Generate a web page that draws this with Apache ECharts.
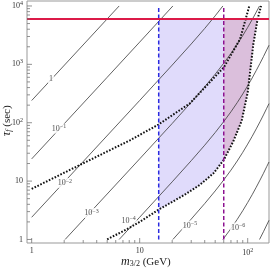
<!DOCTYPE html>
<html><head><meta charset="utf-8">
<script src="https://cdn.jsdelivr.net/npm/echarts@6/dist/echarts.min.js"></script>
<style>html,body{margin:0;padding:0;background:#fff}#c{width:270px;height:276px}</style>
</head><body><div id="c"></div>
<script>
// ---------- data ----------
const xRange = [0.905, 157.5];
const yRange = [0.87, 12170];
const xMajorTicks = [1, 10, 100];
const xMinorTicks = [2,3,4,5,6,7,8,9,20,30,40,50,60,70,80,90];
const yMajorTicks = [1, 10, 100, 1000, 10000];
const yMinorTicks = [2,3,4,5,6,7,8,9,20,30,40,50,60,70,80,90,200,300,400,500,600,700,800,900,2000,3000,4000,5000,6000,7000,8000,9000];

const contourNames = ['1', '10{s|\u22121}', '10{s|\u22122}', '10{s|\u22123}', '10{s|\u22124}', '10{s|\u22125}', '10{s|\u22126}', ''];
const contour0 = [[1,240],[6.455,10000]];
const contour1 = [[1,24],[5,600],[10,2405],[20.29,10000]];
const contour2 = [[1,2.4],[10,240.5],[20,971.5],[30,2235.6],[40,4120],[50,6780],[58.93,10000]];
const contour3 = [[2.04,1],[10,24.05],[20,97.15],[30,223.6],[40,412],[50,678],[60,1044.6],[70,1540.6],[80,2212],[90,3110],[100,4296],[110,5837],[120,7845],[128.7,10000]];
const contour4 = [[6.455,1],[10,2.405],[20,9.715],[30,22.36],[40,41.2],[50,67.8],[60,104.5],[70,154],[80,221],[90,311],[100,430],[110,584],[120,785],[130,1038],[140,1360],[150,1766],[157.5,2125]];
const contour5 = [[20.29,1],[30,2.236],[40,4.12],[50,6.78],[60,10.45],[70,15.4],[80,22.1],[90,31.1],[100,43],[110,58.4],[120,78.5],[130,103.8],[140,136],[150,176.6],[157.5,212.5]];
const contour6 = [[58.93,1],[60,1.045],[70,1.54],[80,2.21],[90,3.11],[100,4.3],[110,5.84],[120,7.85],[130,10.4],[140,13.6],[150,17.7],[157.5,21.25]];
const contour7 = [[128.7,1],[130,1.04],[140,1.36],[150,1.77],[157.5,2.13]];
const contourLabelPos = [[1.51,560],[1.79,79.6],[2.03,9.3],[3.58,2.84],[7.9,2.1],[29.2,1.73],[81.5,1.6]];

const curveA = [[1,7.36],[3.46,23],[8.13,50],[14.9,93],[29.2,215],[60.4,900],[84.9,2700],[103.5,10000]];
const curveB = [[5.0,1.0],[8.1,1.6],[10,2.0],[15,3.25],[20,4.4],[26.3,5.9],[36,8.6],[48,13.5],[60,23],[73.6,48],[88,108],[100,330],[112.7,2200],[123.5,6000],[133,10000]];

const mLow = 15, mHigh = 60, tauLimit = 6000;
const blueLine = [[mLow,1],[mLow,10000]];
const purpleLine = [[mHigh,1],[mHigh,10000]];
const redLine = [[xRange[0],tauLimit],[xRange[1],tauLimit]];

// ---------- helpers ----------
const SERIF = 'Liberation Serif';
function fmt(v){
  const e = Math.round(Math.log10(v));
  if (Math.abs(v - Math.pow(10,e)) > 1e-6*v) return '';
  if (e === 0) return '1';
  if (e === 1) return '10';
  return '10{s|' + e + '}';
}
const supRich = { s: { fontSize: 6, fontFamily: SERIF, color:'#333', verticalAlign:'top', padding:[0,0,5,0] } };

const bMid = curveB.filter(p => p[0] >= mLow && p[0] <= mHigh);
const bHigh = curveB.filter(p => p[0] >= mHigh && p[1] <= tauLimit);
const polyLav = [[mLow,tauLimit],[mHigh,tauLimit]].concat(bMid.slice().reverse());
const polyMauve = [[mHigh,tauLimit]].concat(bHigh.slice().reverse());
const polys = [polyLav, polyMauve];
const polyColors = ['#e0dbfb', '#dbbfdc'];

function lineSeries(data, color, width, type, z){
  return { type:'line', data, symbol:'none', silent:true, animation:false, z: z||2,
    lineStyle:{ color, width, type: type||'solid' } };
}

const contours = [contour0,contour1,contour2,contour3,contour4,contour5,contour6,contour7];

const series = [];
series.push({
  type:'custom', silent:true, animation:false, z:1,
  data: polys.map(p => p[0]),
  renderItem: (params, api) => {
    const pts = polys[params.dataIndex].map(p => api.coord(p));
    return { type:'polygon', shape:{ points: pts }, style:{ fill: polyColors[params.dataIndex] } };
  }
});
contours.forEach(c => series.push(lineSeries(c, '#3a3a3a', 0.8, 'solid', 2)));
series.push({
  type:'scatter', data: contourLabelPos, symbolSize: 0, silent:true, animation:false, z:4,
  label:{ show:true, position:'inside', fontFamily: SERIF, fontSize: 8, color:'#222',
    backgroundColor:'#fff', padding:[0,1,0,1],
    formatter: p => contourNames[p.dataIndex],
    rich:{ s:{ fontSize:6, fontFamily:SERIF, color:'#222', verticalAlign:'top', padding:[0,0,4,0] } } }
});
series.push(lineSeries(curveA, '#111', 2, [1.6,1.6], 5));
series.push(lineSeries(curveB, '#111', 2, [1.6,1.6], 5));
series.push(lineSeries(blueLine, '#2a2ae0', 1.5, [4,2.5], 6));
series.push(lineSeries(purpleLine, '#8c1090', 1.5, [4,2.5], 6));
series.push(lineSeries(redLine, '#dc1a48', 2, 'solid', 7));
const tickData = [];
xMajorTicks.forEach(v => tickData.push([v, yRange[0], 0, 5]));
xMinorTicks.forEach(v => tickData.push([v, yRange[0], 0, 3]));
yMajorTicks.forEach(v => tickData.push([xRange[0], v, 1, 5]));
yMinorTicks.forEach(v => tickData.push([xRange[0], v, 1, 3]));
series.push({
  type:'custom', silent:true, animation:false, z:8, clip:false,
  data: tickData,
  renderItem: (params, api) => {
    const d = tickData[params.dataIndex];
    const p = api.coord([d[0], d[1]]);
    const len = d[3];
    const shape = d[2] === 0 ? {x1:p[0], y1:p[1], x2:p[0], y2:p[1]-len} : {x1:p[0], y1:p[1], x2:p[0]+len, y2:p[1]};
    return { type:'line', shape, style:{ stroke:'#777', lineWidth:0.8 } };
  }
});

const chart = echarts.init(document.getElementById('c'), null, {renderer:'canvas'});
chart.setOption({
  animation:false,
  backgroundColor:'#fff',
  grid:{ left:27, right:1, top:1, bottom:33, show:true, borderColor:'#999', borderWidth:1, backgroundColor:'transparent' },
  xAxis:{ type:'log', min:xRange[0], max:xRange[1], logBase:10,
    axisLine:{show:false}, axisTick:{show:false}, splitLine:{show:false},
    axisLabel:{ formatter: fmt, fontFamily:SERIF, fontSize:8, color:'#333', margin:4, rich: supRich, showMinLabel:false, showMaxLabel:false } },
  yAxis:{ type:'log', min:yRange[0], max:yRange[1], logBase:10,
    axisLine:{show:false}, axisTick:{show:false}, splitLine:{show:false},
    axisLabel:{ formatter: fmt, fontFamily:SERIF, fontSize:8, color:'#333', margin:4, rich: supRich, showMinLabel:false, showMaxLabel:false } },
  graphic:[
    { type:'text', left:121, top:256, style:{ text:'{i|m}{b|3/2}{n| (GeV)}', rich:{
      i:{ fontFamily:SERIF, fontStyle:'italic', fontSize:12, fill:'#222' },
      b:{ fontFamily:SERIF, fontSize:8, fill:'#222', verticalAlign:'bottom', padding:[4,0,0,0] },
      n:{ fontFamily:SERIF, fontSize:11, fill:'#222' } } } },
    { type:'text', x:1, y:136, rotation: Math.PI/2, style:{ text:'{i|\u03c4}{b|f}{n| (sec)}', rich:{
      i:{ fontFamily:SERIF, fontStyle:'italic', fontSize:12, fill:'#222' },
      b:{ fontFamily:SERIF, fontStyle:'italic', fontSize:8, fill:'#222', verticalAlign:'bottom', padding:[4,0,0,0] },
      n:{ fontFamily:SERIF, fontSize:11, fill:'#222' } } } }
  ],
  series
});
</script>
</body></html>
